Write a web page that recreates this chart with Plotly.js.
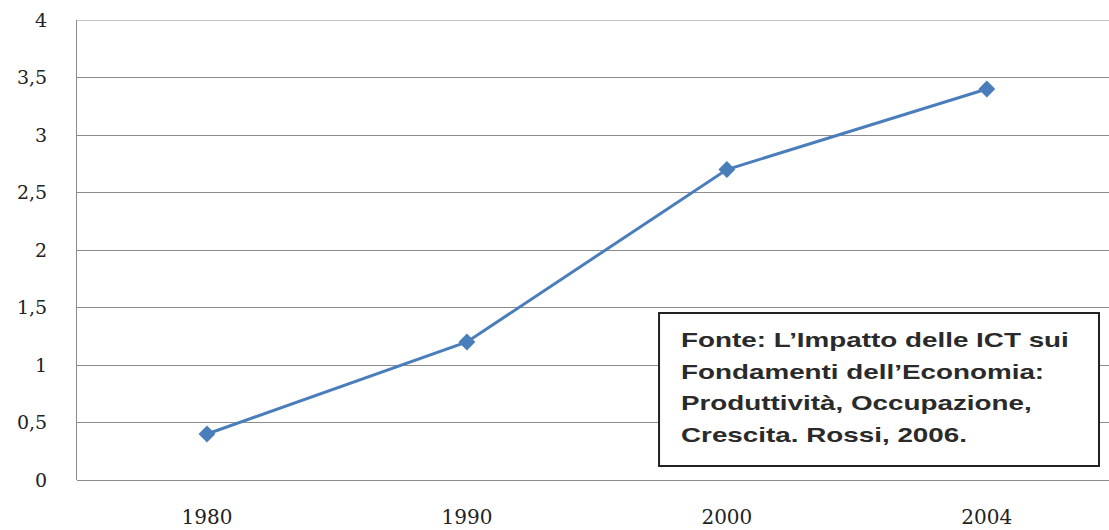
<!DOCTYPE html>
<html>
<head>
<meta charset="utf-8">
<script src="https://cdn.plot.ly/plotly-3.0.1.min.js"></script>
<style>html,body{margin:0;padding:0;background:#fff;}#chart{width:1109px;height:530px;}</style>
</head>
<body>
<div id="chart"></div>
<script>
const years = ['1980', '1990', '2000', '2004'];
const values = [0.4, 1.2, 2.7, 3.4];
const noteLines = [
  'Fonte: L\u2019Impatto delle ICT sui',
  'Fondamenti dell\u2019Economia:',
  'Produttivit\u00e0, Occupazione,',
  'Crescita. Rossi, 2006.'
];

const trace = {
  x: years,
  y: values,
  type: 'scatter',
  mode: 'lines+markers',
  line: {color: '#4A7EBB', width: 3},
  marker: {symbol: 'diamond', size: 13, color: '#4A7EBB'},
  hoverinfo: 'skip'
};

const lineCenters = [0.3043, 0.2348, 0.1674, 0.0978];
const annotations = noteLines.map((t, i) => ({
  xref: 'paper', yref: 'paper',
  x: 0.5833, y: lineCenters[i],
  xanchor: 'left', yanchor: 'middle',
  text: t,
  showarrow: false,
  align: 'left',
  font: {family: 'Liberation Sans', size: 20, color: '#2a2a2a', weight: 'bold'}
}));

const layout = {
  width: 1109,
  height: 530,
  margin: {l: 77, r: 0, t: 20, b: 50},
  paper_bgcolor: '#ffffff',
  plot_bgcolor: '#ffffff',
  separators: ',.',
  showlegend: false,
  font: {family: 'DejaVu Serif', size: 20, color: '#222'},
  xaxis: {
    type: 'category',
    range: [-0.5, 3.47],
    showgrid: false,
    zeroline: false,
    showline: false,
    ticks: '',
    ticklabelstandoff: 23,
    tickfont: {family: 'DejaVu Serif', size: 20, color: '#222'}
  },
  yaxis: {
    range: [0, 4],
    dtick: 0.5,
    tick0: 0,
    showgrid: true,
    gridcolor: '#8c8c8c',
    gridwidth: 1,
    zeroline: true,
    zerolinecolor: '#8c8c8c',
    zerolinewidth: 1,
    showline: true,
    linecolor: '#8c8c8c',
    linewidth: 1,
    ticks: '',
    ticklabelstandoff: 25,
    tickfont: {family: 'DejaVu Serif', size: 19, color: '#222'}
  },
  shapes: [
    {type: 'line', xref: 'paper', yref: 'y', x0: 0, x1: 1, y0: 4, y1: 4,
     line: {color: '#8c8c8c', width: 1}},
    {type: 'rect', xref: 'paper', yref: 'paper', x0: 0.564, x1: 0.9903, y0: 0.0304, y1: 0.363,
     fillcolor: '#ffffff', line: {color: '#222222', width: 2}, layer: 'above'}
  ],
  annotations: annotations
};

Plotly.newPlot('chart', [trace], layout, {displayModeBar: false, staticPlot: true}).then(() => {
  const texts = Array.from(document.querySelectorAll('#chart .annotation-text'));
  if (!texts.length) return;
  const w0 = texts[0].getBBox().width;
  const s = w0 > 0 ? 388 / w0 : 1;
  texts.forEach(t => {
    const b = t.getBBox();
    const x0 = b.x;
    t.setAttribute('transform', 'translate(' + x0 + ',0) scale(' + s + ',1) translate(' + (-x0) + ',0)');
  });
});
</script>
</body>
</html>
